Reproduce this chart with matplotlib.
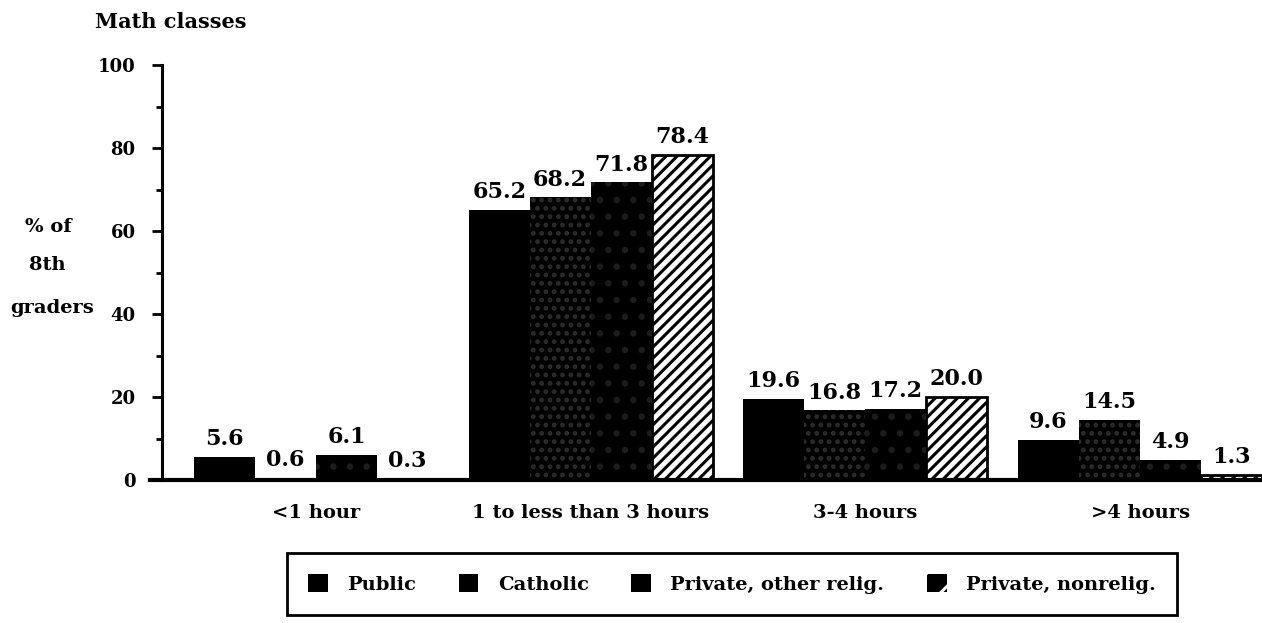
import matplotlib
matplotlib.use("Agg")
import matplotlib.pyplot as plt
from matplotlib.patches import Patch
from matplotlib.ticker import MultipleLocator
import numpy as np

# ---- data ----
categories = ["<1 hour", "1 to less than 3 hours", "3-4 hours", ">4 hours"]
series_names = ["Public", "Catholic", "Private, other relig.", "Private, nonrelig."]
public = [5.6, 65.2, 19.6, 9.6]
catholic = [0.6, 68.2, 16.8, 14.5]
private_other = [6.1, 71.8, 17.2, 4.9]
private_nonrelig = [0.3, 78.4, 20.0, 1.3]
y_ticks = [0, 20, 40, 60, 80, 100]
title_text = "Math classes"
ylabel_lines = ["% of", "8th", "graders"]

plt.rcParams["font.family"] = ["DejaVu Serif"]
plt.rcParams["font.weight"] = "bold"
plt.rcParams["hatch.linewidth"] = 2.2

fig = plt.figure(figsize=(12.62, 6.23), dpi=100)
ax = fig.add_axes([162 / 1262, 1 - 480 / 623, 1 - 162 / 1262, (480 - 65.5) / 623])

x = np.arange(len(categories))
w = 0.222
all_series = [public, catholic, private_other, private_nonrelig]
offsets = [(i - 1.5) * w for i in range(4)]

# Public: solid black
ax.bar(x + offsets[0], public, w, color="black", linewidth=0, zorder=2)
# Catholic: black with faint dotted texture
ax.bar(x + offsets[1], catholic, w, color="black", linewidth=0, zorder=2)
ax.bar(x + offsets[1], catholic, w, facecolor="none", edgecolor="#2c2c2c",
       hatch="..", linewidth=0, zorder=3)
# Private, other relig.: black with very sparse dots
ax.bar(x + offsets[2], private_other, w, color="black", linewidth=0, zorder=2)
ax.bar(x + offsets[2], private_other, w, facecolor="none", edgecolor="#1c1c1c",
       hatch=".", linewidth=0, zorder=3)
# Private, nonrelig.: diagonal hatch
ax.bar(x + offsets[3], private_nonrelig, w, facecolor="white", edgecolor="black",
       hatch="///", linewidth=2.0, zorder=2)

for vals, off in zip(all_series, offsets):
    for xi, v in zip(x, vals):
        ax.annotate(f"{v:.1f}", (xi + off, v), xytext=(0, 8.5),
                    textcoords="offset points", ha="center", va="baseline",
                    fontsize=16, fontweight="bold", annotation_clip=False)

ax.set_xlim(-(316 - 162) / 274.7, 3 + (1262 - 1140) / 274.7)
ax.set_ylim(0, 100)
ax.set_yticks(y_ticks)
ax.yaxis.set_minor_locator(MultipleLocator(10))
ax.set_xticks(x)
ax.set_xticklabels(categories, fontsize=14, fontweight="bold")
ax.tick_params(axis="x", length=0, pad=17)
ax.tick_params(axis="y", which="major", direction="out", length=7, width=2,
               labelsize=13, pad=12)
ax.tick_params(axis="y", which="minor", direction="out", length=4, width=2)

for s in ["top", "right"]:
    ax.spines[s].set_visible(False)
ax.spines["left"].set_linewidth(2.2)
ax.spines["bottom"].set_linewidth(3.0)
ax.spines["bottom"].set_bounds(-(316 - 150) / 274.7, 3 + (1262 - 1140) / 274.7)
ax.spines["bottom"].set_clip_on(False)

fig.text(95 / 1262, 1 - 22 / 623, title_text, fontsize=15, fontweight="bold",
         ha="left", va="center")
for line, (cx, cy) in zip(ylabel_lines, [(48, 227), (47, 265), (52, 308)]):
    fig.text(cx / 1262, 1 - cy / 623, line, fontsize=14, fontweight="bold",
             ha="center", va="center")

handles = [
    Patch(facecolor="black", edgecolor="black", linewidth=0),
    Patch(facecolor="black", edgecolor="black", linewidth=0),
    Patch(facecolor="black", edgecolor="black", linewidth=0),
    Patch(facecolor="black", edgecolor="white", hatch="/", linewidth=0),
]
leg = fig.legend(handles, series_names, loc="center",
                 bbox_to_anchor=(732 / 1262, 1 - 584 / 623), ncol=4,
                 frameon=True, fancybox=False, edgecolor="black",
                 handlelength=1.0, handleheight=1.0, handletextpad=1.0,
                 columnspacing=2.2, borderpad=1.1,
                 prop={"family": "DejaVu Serif", "weight": "bold", "size": 14})
leg.get_frame().set_linewidth(2.0)
leg.get_frame().set_alpha(None)
leg.get_frame().set_facecolor("white")

fig.savefig("out.png", dpi=100)
